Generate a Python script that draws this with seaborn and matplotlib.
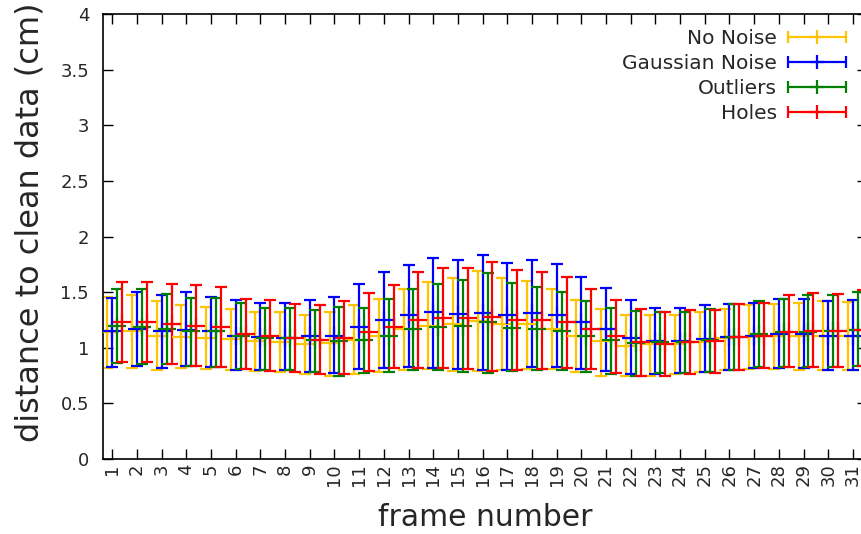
import numpy as np
import pandas as pd
import seaborn as sns
import matplotlib.pyplot as plt
from matplotlib.container import ErrorbarContainer
from matplotlib.legend_handler import HandlerErrorbar

# ---------------------------- data ----------------------------

frames = list(range(1, 32))

no_noise_mean = [1.14, 1.15, 1.11, 1.10, 1.09, 1.08, 1.06, 1.05, 1.03, 1.04,
                 1.07, 1.11, 1.17, 1.20, 1.21, 1.24, 1.21, 1.21, 1.17, 1.11,
                 1.06, 1.02, 1.03, 1.03, 1.05, 1.09, 1.10, 1.11, 1.11, 1.11, 1.11]
no_noise_low = [0.82, 0.82, 0.80, 0.82, 0.81, 0.80, 0.79, 0.78, 0.76, 0.75,
                0.76, 0.78, 0.80, 0.81, 0.79, 0.79, 0.80, 0.81, 0.81, 0.78,
                0.75, 0.75, 0.75, 0.76, 0.78, 0.80, 0.81, 0.81, 0.80, 0.80, 0.80]
no_noise_high = [1.46, 1.47, 1.42, 1.38, 1.37, 1.35, 1.32, 1.32, 1.29, 1.32,
                 1.38, 1.44, 1.53, 1.59, 1.63, 1.69, 1.63, 1.60, 1.53, 1.43,
                 1.35, 1.29, 1.29, 1.29, 1.32, 1.35, 1.38, 1.39, 1.40, 1.42, 1.41]

gauss_mean = [1.15, 1.17, 1.15, 1.16, 1.15, 1.11, 1.10, 1.09, 1.11, 1.11,
              1.19, 1.25, 1.29, 1.32, 1.30, 1.31, 1.29, 1.31, 1.29, 1.23,
              1.17, 1.09, 1.06, 1.06, 1.08, 1.10, 1.11, 1.12, 1.12, 1.11, 1.11]
gauss_low = [0.83, 0.84, 0.82, 0.84, 0.83, 0.80, 0.80, 0.80, 0.78, 0.77,
             0.81, 0.82, 0.83, 0.82, 0.81, 0.80, 0.80, 0.83, 0.83, 0.81,
             0.79, 0.76, 0.76, 0.77, 0.78, 0.80, 0.82, 0.82, 0.82, 0.80, 0.80]
gauss_high = [1.45, 1.50, 1.47, 1.50, 1.46, 1.43, 1.40, 1.40, 1.43, 1.46,
              1.57, 1.68, 1.74, 1.81, 1.79, 1.83, 1.76, 1.79, 1.75, 1.64,
              1.54, 1.43, 1.36, 1.36, 1.38, 1.39, 1.40, 1.44, 1.44, 1.42, 1.43]

outl_mean = [1.20, 1.19, 1.17, 1.15, 1.15, 1.11, 1.09, 1.09, 1.07, 1.06,
             1.07, 1.11, 1.17, 1.19, 1.20, 1.23, 1.18, 1.17, 1.15, 1.11,
             1.07, 1.04, 1.05, 1.05, 1.07, 1.10, 1.12, 1.14, 1.14, 1.15, 1.16]
outl_low = [0.86, 0.85, 0.85, 0.84, 0.83, 0.81, 0.80, 0.80, 0.78, 0.75,
            0.77, 0.78, 0.80, 0.80, 0.78, 0.77, 0.79, 0.80, 0.80, 0.78,
            0.76, 0.75, 0.77, 0.77, 0.78, 0.80, 0.83, 0.83, 0.83, 0.83, 0.84]
outl_high = [1.53, 1.53, 1.48, 1.45, 1.45, 1.40, 1.36, 1.36, 1.34, 1.37,
             1.36, 1.44, 1.53, 1.57, 1.61, 1.67, 1.58, 1.55, 1.50, 1.42,
             1.36, 1.33, 1.32, 1.32, 1.35, 1.39, 1.42, 1.44, 1.47, 1.47, 1.50]

holes_mean = [1.23, 1.23, 1.21, 1.20, 1.19, 1.12, 1.11, 1.09, 1.07, 1.09,
              1.14, 1.19, 1.25, 1.27, 1.27, 1.28, 1.25, 1.25, 1.23, 1.17,
              1.11, 1.05, 1.03, 1.05, 1.06, 1.10, 1.11, 1.14, 1.15, 1.15, 1.16]
holes_low = [0.87, 0.87, 0.85, 0.84, 0.83, 0.81, 0.79, 0.78, 0.76, 0.76,
             0.79, 0.82, 0.82, 0.82, 0.81, 0.79, 0.80, 0.81, 0.82, 0.81,
             0.77, 0.75, 0.75, 0.76, 0.77, 0.80, 0.82, 0.83, 0.83, 0.83, 0.84]
holes_high = [1.59, 1.59, 1.57, 1.56, 1.55, 1.44, 1.43, 1.39, 1.38, 1.42,
              1.49, 1.56, 1.68, 1.72, 1.72, 1.77, 1.70, 1.68, 1.64, 1.53,
              1.43, 1.35, 1.32, 1.34, 1.34, 1.39, 1.40, 1.47, 1.49, 1.48, 1.52]

series = ["No Noise", "Gaussian Noise", "Outliers", "Holes"]
colors = ["#ffc400", "#0000ff", "#008000", "#ff0000"]
offsets = [-0.2, 0.0, 0.2, 0.4]

rows = []
for name, m, lo, hi in zip(series,
                           [no_noise_mean, gauss_mean, outl_mean, holes_mean],
                           [no_noise_low, gauss_low, outl_low, holes_low],
                           [no_noise_high, gauss_high, outl_high, holes_high]):
    for f, a, b, c in zip(frames, m, lo, hi):
        rows.append({"series": name, "frame": f, "mean": a, "low": b, "high": c})
df = pd.DataFrame(rows)

# ---------------------------------- plot ----------------------------------

sns.set_style("ticks")
plt.rcParams["font.family"] = ["DejaVu Sans"]

fig = plt.figure(figsize=(8.61, 5.34), dpi=100)
ax = fig.add_axes([103 / 861, 75 / 534, 764 / 861, 445 / 534])

for name, col, off in zip(series, colors, offsets):
    d = df[df["series"] == name]
    x = d["frame"] + off
    ax.errorbar(x, d["mean"], yerr=[d["mean"] - d["low"], d["high"] - d["mean"]],
                fmt="none", ecolor=col, elinewidth=1.6, capsize=4, capthick=1.6)
    sns.scatterplot(x=x, y=d["mean"], marker="+", s=150, color=col,
                    linewidth=1.6, ax=ax, zorder=3)
    # proxy for legend
    ax.errorbar([-10], [-10], xerr=[1], fmt="+", color=col, ms=10, mew=1.6,
                elinewidth=1.6, capsize=4, capthick=1.6, label=name)

ax.set_xlim(0.623, 31.57)
ax.set_ylim(0, 4)
ax.set_xticks(frames)
ax.set_xticklabels([str(f) for f in frames], rotation=90, fontsize=13)
ax.set_yticks([0, 0.5, 1, 1.5, 2, 2.5, 3, 3.5, 4])
ax.set_yticklabels(["0", "0.5", "1", "1.5", "2", "2.5", "3", "3.5", "4"], fontsize=13)
ax.tick_params(direction="in", length=7, width=1, top=True, right=True, color="black")
ax.tick_params(axis="x", pad=3)
ax.tick_params(axis="y", pad=10)
for s in ax.spines.values():
    s.set_visible(True)
    s.set_linewidth(1.2)
    s.set_color("black")

ax.set_xlabel("frame number", fontsize=21.5, labelpad=12)
ax.set_ylabel("distance to clean data (cm)", fontsize=23, labelpad=11)
ax.yaxis.label.set_y(0.532)

ax.legend(loc="upper right", bbox_to_anchor=(0.985, 0.985), frameon=False,
          fontsize=14.5, markerfirst=False, handlelength=3.0, labelspacing=0.31,
          handletextpad=0.5, borderaxespad=0,
          handler_map={ErrorbarContainer: HandlerErrorbar(xerr_size=1.45)})

plt.savefig("out.png", dpi=100)
